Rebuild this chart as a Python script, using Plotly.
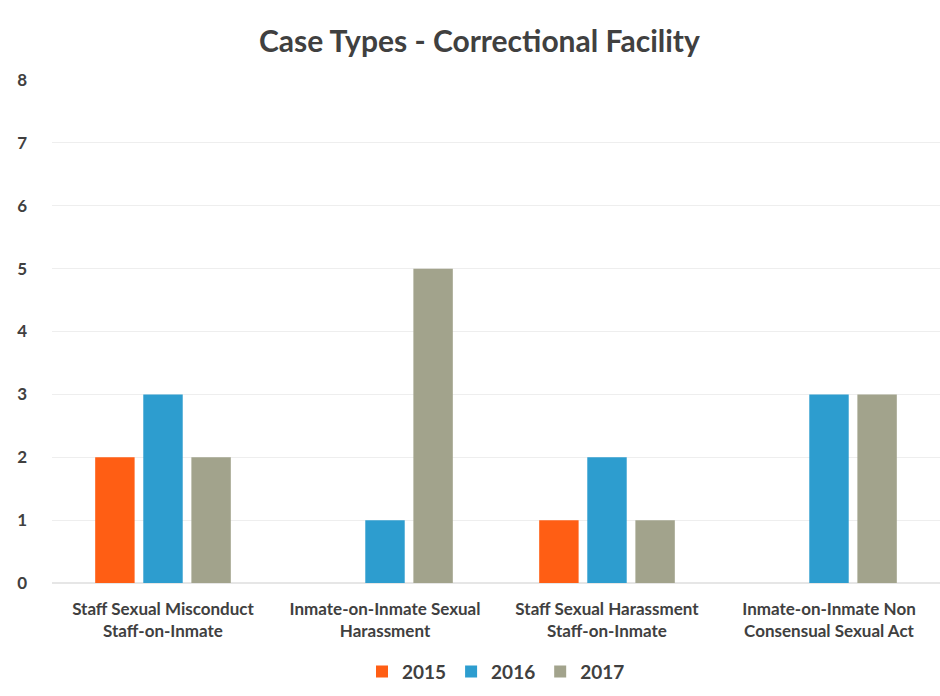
import plotly.graph_objects as go

# Case counts by type and year
categories = [
    "Staff Sexual Misconduct<br>Staff-on-Inmate",
    "Inmate-on-Inmate Sexual<br>Harassment",
    "Staff Sexual Harassment<br>Staff-on-Inmate",
    "Inmate-on-Inmate Non<br>Consensual Sexual Act",
]
years = ["2015", "2016", "2017"]
cases_2015 = [2, 0, 1, 0]
cases_2016 = [3, 1, 2, 3]
cases_2017 = [2, 5, 1, 3]
y_ticks = [0, 1, 2, 3, 4, 5, 6, 7, 8]

colors = {"2015": "#FF5E14", "2016": "#2D9DCF", "2017": "#A2A38C"}
series = {"2015": cases_2015, "2016": cases_2016, "2017": cases_2017}

text_color = "#404040"
font_family = "Lato, 'Open Sans', sans-serif"

fig = go.Figure()
for yr in years:
    fig.add_trace(go.Bar(
        name=yr,
        x=categories,
        y=series[yr],
        marker=dict(color=colors[yr], line=dict(width=0)),
    ))

fig.update_layout(
    width=940,
    height=696,
    barmode="group",
    bargap=0.35,
    bargroupgap=0.18,
    paper_bgcolor="white",
    plot_bgcolor="white",
    margin=dict(l=52, r=0, t=80, b=113),
    title=dict(
        text="<b>Case Types - Correctional Facility</b>",
        x=0.51,
        xanchor="center",
        y=0.94,
        yanchor="middle",
        font=dict(family=font_family, size=30, color=text_color),
    ),
    font=dict(family=font_family, color=text_color),
    legend=dict(
        orientation="h",
        x=0.5,
        xanchor="center",
        y=-0.176,
        yanchor="middle",
        font=dict(family=font_family, size=19, color=text_color, weight="bold"),
        itemwidth=30,
        traceorder="normal",
    ),
    xaxis=dict(
        showgrid=False,
        showline=False,
        ticks="",
        tickfont=dict(family=font_family, size=17, color=text_color, weight="bold"),
        ticklabelstandoff=14,
    ),
    yaxis=dict(
        range=[0, 8],
        tickvals=y_ticks,
        showgrid=True,
        gridcolor="#EEEEEE",
        gridwidth=1,
        zeroline=True,
        zerolinecolor="#E6E6E6",
        showline=False,
        ticks="",
        tickfont=dict(family=font_family, size=17, color=text_color, weight="bold"),
        ticklabelstandoff=24,
    ),
)

fig.write_html("out.html")
